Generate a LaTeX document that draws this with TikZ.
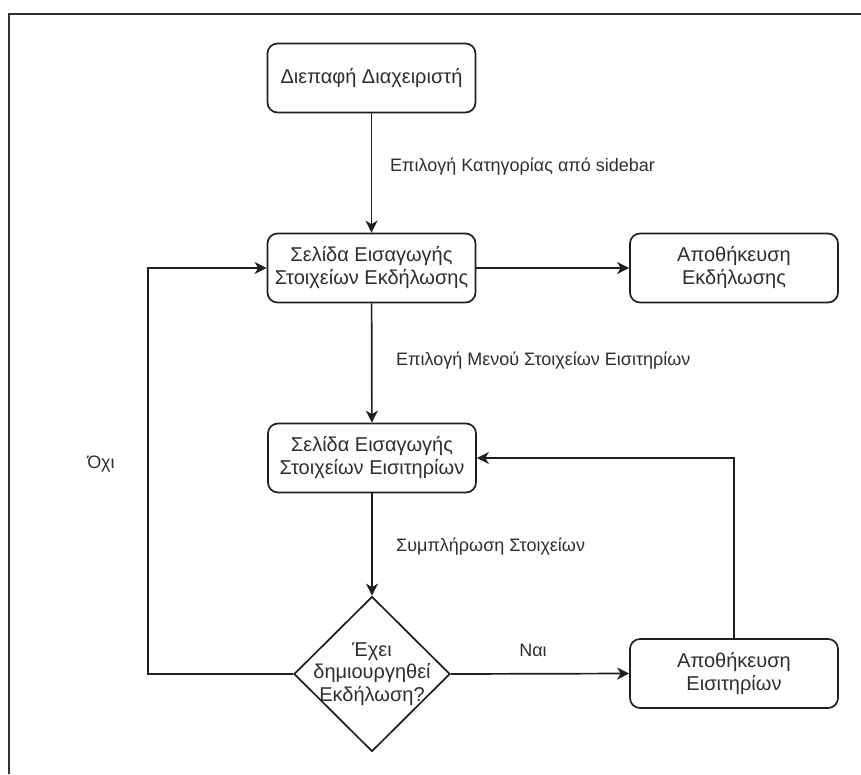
\documentclass[tikz,border=0pt]{standalone}
\usepackage{fontspec}
\setmainfont{Liberation Sans}
\usetikzlibrary{arrows.meta,shapes.geometric}

\tikzset{
  flowline/.style={draw=black!88, line width=1.7pt, -{Stealth[length=12pt,width=12pt,inset=3.5pt]}},
  stepbox/.style={draw=black!88, line width=1.7pt, rounded corners=10pt, fill=white,
    minimum width=208pt, minimum height=69pt, inner sep=0pt, align=center,
    text=black!82, font=\fontsize{20}{23}\selectfont},
  decision/.style={draw=black!88, line width=1.7pt, diamond, fill=white,
    minimum width=156pt, minimum height=155pt, inner sep=0pt},
  edgetext/.style={text=black!82, font=\fontsize{18}{21}\selectfont, inner sep=0pt}
}

\begin{document}
\begin{tikzpicture}[x=1pt, y=-1pt]
  \useasboundingbox (0,0) rectangle (861,774);

  % outer frame, running off the right and bottom edges
  \draw[draw=black!80, line width=2pt] (8.5,774) -- (8.5,13.5) -- (861,13.5);

  % process boxes
  \node[stepbox] (ui)     at (371.5,78)  {Διεπαφή Διαχειριστή};
  \node[stepbox] (evpage) at (371.5,268) {Σελίδα Εισαγωγής\\Στοιχείων Εκδήλωσης};
  \node[stepbox] (evsave) at (734,268)   {Αποθήκευση\\Εκδήλωσης};
  \node[stepbox] (tkpage) at (372,458)   {Σελίδα Εισαγωγής\\Στοιχείων Εισιτηρίων};
  \node[stepbox] (tksave) at (734,673.5) {Αποθήκευση\\Εισιτηρίων};

  % decision
  \node[decision, label={[align=center, text=black!82, font=\fontsize{20}{22.5}\selectfont]center:Έχει\\δημιουργηθεί\\Εκδήλωση?}]
    (check) at (372,674) {};

  % turning point of the "no" loop
  \coordinate (loopx) at (148,0);

  % connectors
  \draw[flowline] (ui) -- (evpage);
  \draw[flowline] (evpage) -- (evsave);
  \draw[flowline] (evpage) -- (tkpage);
  \draw[flowline] (tkpage) -- (check);
  \draw[flowline] (check.east) -- (tksave.west);
  \draw[flowline] (tksave.north) |- (tkpage.east);
  \draw[flowline] (check.west) -- (check.west -| loopx) |- (evpage.west);

  % connector labels
  \node[edgetext, anchor=west] (l1) at (390,167) {Επιλογή Κατηγορίας από sidebar};
  \node[edgetext, anchor=west] (l2) at (396,361) {Επιλογή Μενού Στοιχείων Εισιτηρίων};
  \node[edgetext, anchor=west] (l3) at (396,547) {Συμπλήρωση Στοιχείων};
  \node[edgetext] (yes) at (533,650) {Ναι};
  \node[edgetext] (no)  at (101,464) {Όχι};
\end{tikzpicture}
\end{document}
